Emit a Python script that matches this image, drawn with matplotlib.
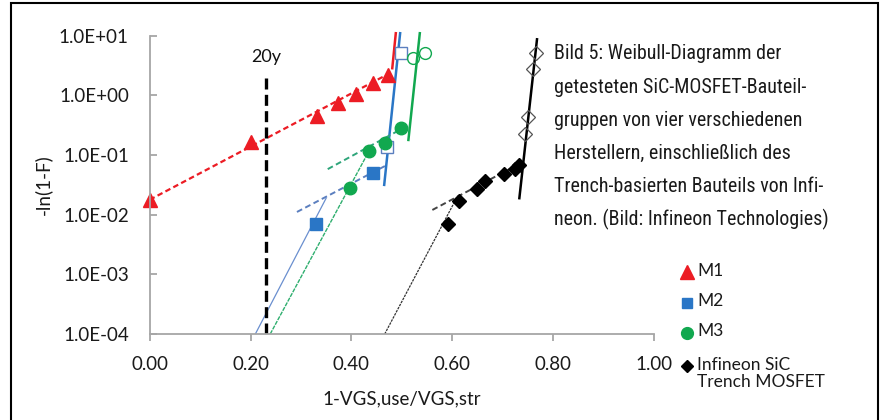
import matplotlib
matplotlib.use("Agg")
import matplotlib.pyplot as plt
from matplotlib.lines import Line2D
from matplotlib.patches import Rectangle
from matplotlib.ticker import FuncFormatter, FixedLocator

# measured points (filled = used for fit, open = outliers)
m1_x = [0.0, 0.2, 0.331, 0.373, 0.409, 0.442, 0.472]
m1_y = [0.0178, 0.168, 0.457, 0.74, 1.05, 1.6, 2.2]

m2_x = [0.329, 0.442]
m2_y = [0.0070, 0.0496]
m2_open_x = [0.4715, 0.498]
m2_open_y = [0.138, 5.07]

m3_x = [0.398, 0.435, 0.467, 0.498]
m3_y = [0.0278, 0.117, 0.161, 0.281]
m3_open_x = [0.523, 0.546]
m3_open_y = [4.18, 5.07]

inf_x = [0.592, 0.613, 0.649, 0.665, 0.703, 0.724, 0.733]
inf_y = [0.0069, 0.0172, 0.0267, 0.0368, 0.0476, 0.0578, 0.068]
inf_open_x = [0.745, 0.750, 0.7595, 0.766]
inf_open_y = [0.225, 0.43, 2.77, 5.07]

# fit lines, end points
m1_fit_x, m1_fit_y = [0.0, 0.482], [0.0178, 2.5]
m1_steep_x, m1_steep_y = [0.481, 0.488], [2.85, 11.0]

m2_fit_x, m2_fit_y = [0.292, 0.468], [0.0111, 0.0664]
m2_ext_x, m2_ext_y = [0.2095, 0.35], [1e-4, 0.019]
m2_steep_x, m2_steep_y = [0.465, 0.4966], [0.0316, 11.0]

m3_fit_x, m3_fit_y = [0.353, 0.517], [0.058, 0.33]
m3_ext_x, m3_ext_y = [0.239, 0.435], [1e-4, 0.117]
m3_steep_x, m3_steep_y = [0.513, 0.5356], [0.179, 11.0]

inf_fit_x, inf_fit_y = [0.5605, 0.7417], [0.012, 0.0776]
inf_ext_x, inf_ext_y = [0.466, 0.603], [1e-4, 0.0155]
inf_steep_x, inf_steep_y = [0.733, 0.768], [0.0189, 8.7]

life_x, life_y = [0.231, 0.231], [1e-4, 2.06]
life_label = "20y"

x_ticks = [0.0, 0.2, 0.4, 0.6, 0.8, 1.0]
y_ticks = [1e-4, 1e-3, 1e-2, 1e-1, 1e0, 1e1]

legend_labels = ["M1", "M2", "M3", "Infineon SiC\nTrench MOSFET"]

caption_lines = [
    "Bild 5: Weibull-Diagramm der",
    "getesteten SiC-MOSFET-Bauteil-",
    "gruppen von vier verschiedenen",
    "Herstellern, einschließlich des",
    "Trench-basierten Bauteils von Infi-",
    "neon. (Bild: Infineon Technologies)",
]

RED = "#ec1c24"
BLUE = "#2a76c6"
GREEN = "#11a84f"
BLACK = "#000000"

plt.rcParams["font.family"] = ["Lato", "DejaVu Sans"]

W, H = 882, 420
fig = plt.figure(figsize=(W / 100, H / 100), dpi=100)
ax = fig.add_axes([149.7 / W, 1 - 334 / H, (654 - 149.7) / W, (334 - 35.7) / H])

ax.set_yscale("log")
ax.set_xlim(0, 1.0)
ax.set_ylim(1e-4, 1e1)

# lines
ax.plot(m1_fit_x, m1_fit_y, color=RED, lw=1.6, ls=(0, (2.5, 1.5)))
ax.plot(m1_steep_x, m1_steep_y, color=RED, lw=1.8, clip_on=False)

ax.plot(m2_fit_x, m2_fit_y, color="#5b7fbf", lw=1.4, ls=(0, (3, 1.8)))
ax.plot(m2_ext_x, m2_ext_y, color="#6a8fcf", lw=0.9)
ax.plot(m2_steep_x, m2_steep_y, color=BLUE, lw=1.8, clip_on=False)

ax.plot(m3_fit_x, m3_fit_y, color="#2ea57a", lw=1.4, ls=(0, (3, 1.8)))
ax.plot(m3_ext_x, m3_ext_y, color="#2eae6e", lw=1.0, ls=(0, (3, 0.8)))
ax.plot(m3_steep_x, m3_steep_y, color=GREEN, lw=1.8, clip_on=False)

ax.plot(inf_fit_x, inf_fit_y, color="#444444", lw=1.4, ls=(0, (3, 1.8)))
ax.plot(inf_ext_x, inf_ext_y, color="#333333", lw=0.9, ls=(0, (2, 0.8)))
ax.plot(inf_steep_x, inf_steep_y, color=BLACK, lw=1.8)

ax.plot(life_x, life_y, color=BLACK, lw=2.4, ls=(0, (3.3, 1.6)))
ax.text(life_x[0], 4.45, life_label, ha="center", va="center", fontsize=13, color="#111111")

# markers
ax.plot(m1_x, m1_y, ls="none", marker="^", ms=10, color=RED, clip_on=False)
ax.plot(m2_x, m2_y, ls="none", marker="s", ms=8, color=BLUE)
ax.plot(m2_open_x, m2_open_y, ls="none", marker="s", ms=8, mfc="white", mec="#5b7fbf", mew=1.0)
ax.plot(m3_x, m3_y, ls="none", marker="o", ms=9, color=GREEN)
ax.plot(m3_open_x, m3_open_y, ls="none", marker="o", ms=8.5, mfc="none", mec=GREEN, mew=1.0)
ax.plot(inf_x, inf_y, ls="none", marker="D", ms=7, color=BLACK)
ax.plot(inf_open_x, inf_open_y, ls="none", marker="D", ms=7, mfc="none", mec="#555555", mew=0.9)

# axes styling
for side in ["top", "right"]:
    ax.spines[side].set_visible(False)
for side in ["left", "bottom"]:
    ax.spines[side].set_color("#a6a6a6")
    ax.spines[side].set_linewidth(1.3)

ax.xaxis.set_major_locator(FixedLocator(x_ticks))
ax.yaxis.set_major_locator(FixedLocator(y_ticks))
ax.yaxis.set_minor_locator(FixedLocator([]))
ax.xaxis.set_major_formatter(FuncFormatter(lambda v, p: f"{v:.2f}"))
ax.yaxis.set_major_formatter(FuncFormatter(lambda v, p: f"{v:.1E}"))
ax.tick_params(axis="y", direction="in", length=5, width=1.3, color="#a6a6a6",
               pad=15, labelsize=13.5, labelcolor="#1a1a1a")
ax.tick_params(axis="x", direction="out", length=5, width=1.3, color="#a6a6a6",
               pad=11, labelsize=13.5, labelcolor="#1a1a1a")

ax.set_xlabel("1-VGS,use/VGS,str", fontsize=13.5, color="#1a1a1a", labelpad=12)
ax.set_ylabel("-ln(1-F)", fontsize=13.5, color="#1a1a1a", labelpad=5)

# legend
leg_handles = [
    Line2D([], [], ls="none", marker="^", ms=10, color=RED),
    Line2D([], [], ls="none", marker="s", ms=7.5, color=BLUE),
    Line2D([], [], ls="none", marker="o", ms=8.5, color=GREEN),
    Line2D([], [], ls="none", marker="D", ms=6, color=BLACK),
]
leg_rows = [272, 303, 333, 366]
for handle, label, row in zip(leg_handles, legend_labels, leg_rows):
    fig.add_artist(Line2D([687 / W], [1 - row / H], ls="none", marker=handle.get_marker(),
                          ms=handle.get_markersize(), color=handle.get_color()))
    fig.text(697 / W, 1 - (row - 9.5) / H, label, ha="left", va="top", fontsize=12.5,
             color="#1a1a1a", linespacing=1.12)

# caption
for i, line in enumerate(caption_lines):
    fig.text(554 / W, 1 - (59.3 + i * 33.3) / H, line, ha="left", va="baseline",
             fontsize=14.4, color="#1a1a1a",
             family=["Liberation Sans Narrow", "Roboto Condensed", "DejaVu Sans"])

# outer frame
fig.add_artist(Rectangle((11 / W, -0.05), (878 - 11) / W, 1.05 - 3 / H,
                         transform=fig.transFigure, fill=False, ec="black", lw=1.5))

fig.savefig("out.png", dpi=100)
